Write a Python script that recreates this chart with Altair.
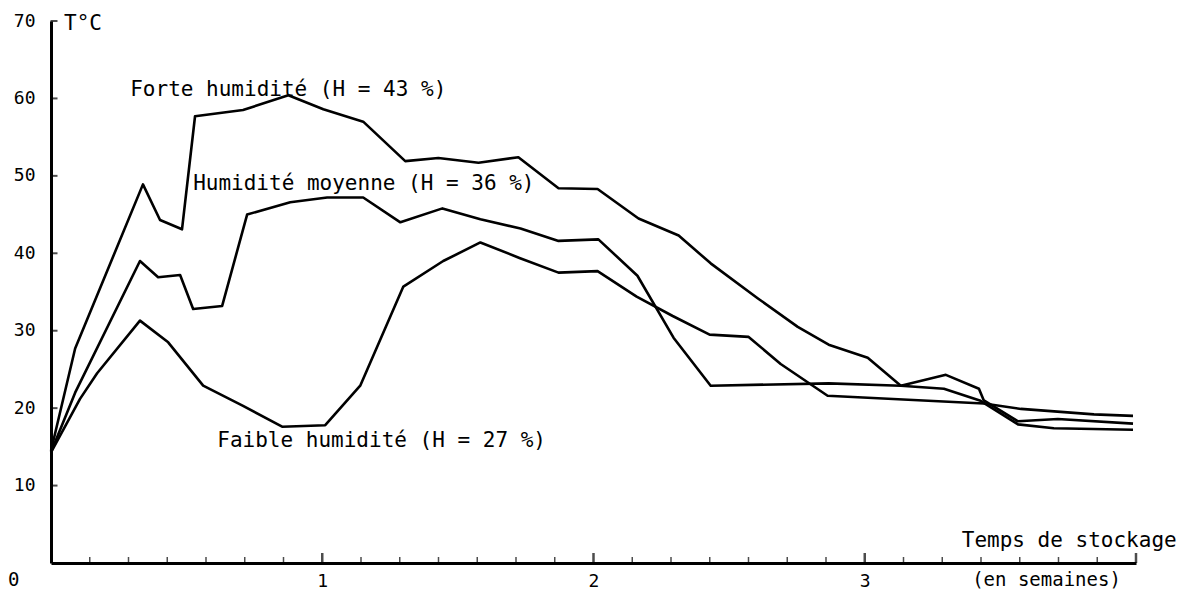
import altair as alt
import pandas as pd

# Temps (semaines) et température (°C)
forte_x = [0.0, 0.089, 0.339, 0.402, 0.483, 0.531, 0.708, 0.875, 1.004, 1.151, 1.306, 1.428,
           1.576, 1.723, 1.871, 2.015, 2.166, 2.314, 2.432, 2.605, 2.753, 2.867, 3.011, 3.133,
           3.299, 3.421, 3.439, 3.565, 3.712, 3.989]
forte_y = [14.5, 27.7, 48.9, 44.3, 43.1, 57.7, 58.5, 60.4, 58.6, 57.0, 51.9, 52.3,
           51.7, 52.4, 48.4, 48.3, 44.5, 42.3, 38.7, 34.2, 30.5, 28.2, 26.5, 22.9,
           24.3, 22.5, 21.0, 18.3, 18.6, 18.0]

moyenne_x = [0.0, 0.089, 0.328, 0.395, 0.476, 0.524, 0.631, 0.723, 0.882, 1.018, 1.151, 1.288,
             1.443, 1.583, 1.731, 1.871, 2.018, 2.162, 2.295, 2.432, 2.867, 3.133, 3.292,
             3.424, 3.565, 3.697, 3.989]
moyenne_y = [14.3, 22.0, 39.0, 36.9, 37.2, 32.8, 33.2, 45.0, 46.6, 47.2, 47.2, 44.0,
             45.8, 44.4, 43.2, 41.6, 41.8, 37.1, 29.1, 22.9, 23.2, 22.9, 22.5,
             21.0, 17.9, 17.4, 17.2]

faible_x = [0.0, 0.107, 0.170, 0.328, 0.432, 0.561, 0.708, 0.852, 1.011, 1.140, 1.299, 1.446,
            1.583, 1.727, 1.871, 2.015, 2.159, 2.292, 2.428, 2.572, 2.690, 2.863, 3.439,
            3.576, 3.845, 3.989]
faible_y = [14.3, 21.2, 24.5, 31.3, 28.5, 22.9, 20.3, 17.6, 17.8, 22.9, 35.7, 39.0,
            41.4, 39.4, 37.5, 37.7, 34.4, 31.9, 29.5, 29.2, 25.7, 21.6, 20.6,
            19.9, 19.2, 19.0]

y_ticks = [10, 20, 30, 40, 50, 60, 70]
x_labels = [1, 2, 3]
days = list(range(1, 29))

FONT = "DejaVu Sans Mono"

rows = []
for name, xs, ys in [("forte", forte_x, forte_y), ("moyenne", moyenne_x, moyenne_y),
                     ("faible", faible_x, faible_y)]:
    for a, b in zip(xs, ys):
        rows.append({"serie": name, "t": a, "T": b})
df = pd.DataFrame(rows)

xscale = alt.Scale(domain=[0, 4], nice=False, zero=False)
yscale = alt.Scale(domain=[0, 70], nice=False)

lines = alt.Chart(df).mark_line(color="black", strokeWidth=2.6, strokeJoin="round").encode(
    x=alt.X("t:Q", scale=xscale,
            axis=alt.Axis(values=x_labels, format="d", title=None, grid=False, ticks=False,
                          domainColor="black", domainWidth=3, labelFont=FONT,
                          labelFontSize=18, labelColor="black", labelPadding=9,
                          labelFlush=False)),
    y=alt.Y("T:Q", scale=yscale,
            axis=alt.Axis(values=y_ticks, title=None, grid=False, ticks=False,
                          domainColor="black", domainWidth=3, labelFont=FONT,
                          labelFontSize=18, labelColor="black", labelPadding=16)),
    detail="serie:N",
)

ytick_df = pd.DataFrame({"t": [0] * len(y_ticks), "T": y_ticks})
yticks = alt.Chart(ytick_df).mark_tick(orient="horizontal", color="black", size=7,
                                       thickness=2, xOffset=3).encode(
    x=alt.X("t:Q", scale=xscale), y=alt.Y("T:Q", scale=yscale))

day_df = pd.DataFrame({"t": [d / 7 for d in days], "T": [0] * len(days),
                       "major": [d % 7 == 0 for d in days]})
dticks = alt.Chart(day_df[~day_df["major"]]).mark_tick(
    orient="vertical", color="black", size=6, thickness=1.5, yOffset=-3).encode(
    x=alt.X("t:Q", scale=xscale), y=alt.Y("T:Q", scale=yscale))
wticks = alt.Chart(day_df[day_df["major"]]).mark_tick(
    orient="vertical", color="black", size=10, thickness=2.5, yOffset=-5).encode(
    x=alt.X("t:Q", scale=xscale), y=alt.Y("T:Q", scale=yscale))

left_txt = pd.DataFrame({
    "t": [0.048, 0.292, 0.524, 0.613],
    "T": [69.6, 61.1, 48.9, 15.8],
    "label": ["T°C", "Forte humidité (H = 43 %)", "Humidité moyenne (H = 36 %)",
              "Faible humidité (H = 27 %)"],
})
right_txt = pd.DataFrame({"t": [4.15], "T": [2.9], "label": ["Temps de stockage"]})
center_txt = pd.DataFrame({"t": [3.67, -0.137], "T": [-2.2, -2.2],
                           "label": ["(en semaines)", "0"]})

def txt(d, align, size=21):
    return alt.Chart(d).mark_text(align=align, baseline="middle", font=FONT,
                                  fontSize=size, color="black").encode(
        x=alt.X("t:Q", scale=xscale), y=alt.Y("T:Q", scale=yscale), text="label:N")

chart = alt.layer(
    lines, yticks, dticks, wticks,
    txt(left_txt, "left"), txt(right_txt, "right"), txt(center_txt, "center", 19),
).properties(
    width=1085, height=542,
    autosize=alt.AutoSizeParams(type="none"),
    padding={"left": 43, "top": 13, "right": 48, "bottom": 28},
).configure_view(stroke=None)

chart.save("out.html", embed_options={"renderer": "svg", "actions": False})
